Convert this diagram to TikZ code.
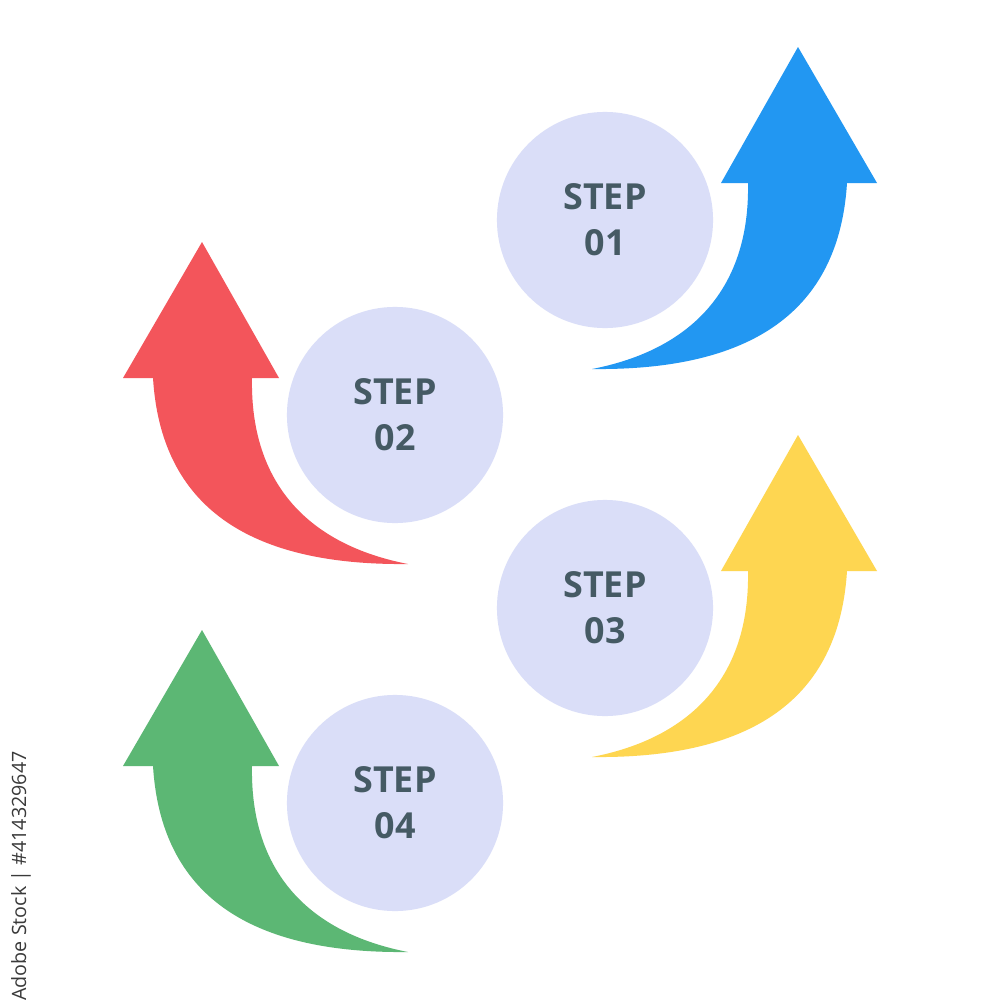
\documentclass[tikz,border=0pt]{standalone}
\usepackage{fontspec}
\setmainfont{Open Sans}
\newfontfamily\wmfont{Open Sans}
\definecolor{arrowblue}{HTML}{2297F2}
\definecolor{arrowred}{HTML}{F3555B}
\definecolor{arrowyellow}{HTML}{FED651}
\definecolor{arrowgreen}{HTML}{5CB774}
\definecolor{circfill}{HTML}{DADEF8}
\definecolor{steptext}{HTML}{455A64}
\definecolor{wmtext}{HTML}{3A3A3A}
\begin{document}
\begin{tikzpicture}[x=0.01cm,y=-0.01cm,
  stepcircle/.style={circle,fill=circfill,minimum size=2.16cm,inner sep=0pt,
    text=steptext,font=\bfseries\fontsize{10.2}{13}\selectfont,align=center},
  pics/curvyarrow/.style={code={
    \fill[#1] (0,0) -- (79,136) -- (49,136)
      .. controls (42,248) and (-26,324) .. (-206,322)
      .. controls (-108,303) and (-48,243) .. (-50,136)
      -- (-77,136) -- cycle;
  }}]
\useasboundingbox[fill=white] (0,0) rectangle (1000,1000);

\pic at (798,47) {curvyarrow=arrowblue};
\pic[xscale=-1] at (202,242) {curvyarrow=arrowred};
\pic at (798,435) {curvyarrow=arrowyellow};
\pic[xscale=-1] at (202,630) {curvyarrow=arrowgreen};

\node[stepcircle] (s1) at (605,220) {STEP\\01};
\node[stepcircle] (s2) at (395,415) {STEP\\02};
\node[stepcircle] (s3) at (605,608) {STEP\\03};
\node[stepcircle] (s4) at (395,803) {STEP\\04};

\node[rotate=90,text=wmtext,font=\wmfont\fontsize{5.6}{6}\selectfont] (wm) at (21,876) {Adobe Stock | \#414329647};
\end{tikzpicture}
\end{document}
